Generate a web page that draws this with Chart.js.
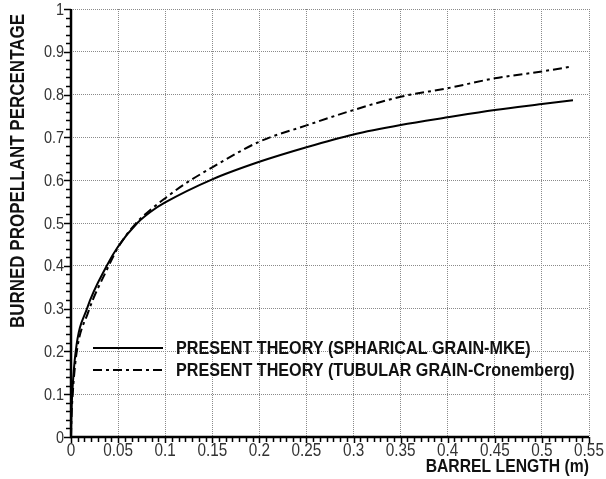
<!DOCTYPE html>
<html>
<head>
<meta charset="utf-8">
<script src="https://cdn.jsdelivr.net/npm/chart.js@4"></script>
<style>
  html, body { margin: 0; padding: 0; background: #fff; }
  #wrap { width: 606px; height: 479px; }
</style>
</head>
<body>
<div id="wrap"><canvas id="burnChart" width="606" height="479"></canvas></div>
<script>
// values
const sphericalX = [0, 0.0004, 0.0013, 0.005, 0.017, 0.038, 0.05, 0.0704, 0.085, 0.1, 0.15, 0.2, 0.25, 0.3, 0.35, 0.4, 0.45, 0.5, 0.533];
const sphericalY = [0, 0.05, 0.1, 0.2, 0.3, 0.4, 0.445, 0.5, 0.527, 0.548, 0.602, 0.643, 0.677, 0.707, 0.729, 0.747, 0.764, 0.778, 0.787];

const tubularX = [0, 0.0005, 0.0015, 0.0055, 0.018, 0.039, 0.05, 0.068, 0.085, 0.1, 0.12, 0.15, 0.2, 0.25, 0.3, 0.35, 0.4, 0.45, 0.5, 0.53];
const tubularY = [0, 0.045, 0.09, 0.19, 0.29, 0.395, 0.443, 0.497, 0.532, 0.558, 0.59, 0.63, 0.69, 0.728, 0.764, 0.795, 0.815, 0.838, 0.854, 0.865];

const seriesLabels = ['PRESENT THEORY (SPHARICAL GRAIN-MKE)', 'PRESENT THEORY (TUBULAR GRAIN-Cronemberg)'];
const xTitle = 'BARREL LENGTH (m)';
const yTitle = 'BURNED PROPELLANT PERCENTAGE';

const FONT = "'Liberation Sans', Arial, sans-serif";
const SQUEEZE = 0.85; // the reference lettering is a bit condensed

const toPoints = (xs, ys) => xs.map((x, i) => ({ x, y: ys[i] }));
const fmt = v => String(+Number(v).toFixed(2));

function squeezedText(ctx, text, x, y, font, align, baseline, color) {
  ctx.save();
  ctx.translate(x, y);
  ctx.scale(SQUEEZE, 1);
  ctx.font = font;
  ctx.textAlign = align;
  ctx.textBaseline = baseline;
  ctx.fillStyle = color;
  ctx.fillText(text, 0, 0);
  ctx.restore();
}

// axes, ticks, tick labels, titles and the legend box
const decorations = {
  id: 'decorations',
  afterDraw(chart) {
    const { ctx, chartArea: a, scales: { x, y } } = chart;
    ctx.save();
    ctx.strokeStyle = '#000';

    // minor + major ticks
    ctx.lineWidth = 1.5;
    for (let i = 0; i <= 50; i++) {
      const py = Math.round(y.getPixelForValue(i * 0.02)) + 0.5;
      const len = i % 5 === 0 ? 7 : 5;
      ctx.beginPath(); ctx.moveTo(a.left - len, py); ctx.lineTo(a.left, py); ctx.stroke();
    }
    for (let i = 0; i <= 77; i++) {
      const px = Math.round(x.getPixelForValue(i * 0.05 / 7)) + 0.5;
      const len = i % 7 === 0 ? 6 : 5;
      ctx.beginPath(); ctx.moveTo(px, a.bottom); ctx.lineTo(px, a.bottom + len); ctx.stroke();
    }

    // axis lines
    ctx.lineWidth = 2.5;
    ctx.beginPath();
    ctx.moveTo(a.left, a.top);
    ctx.lineTo(a.left, a.bottom);
    ctx.lineTo(a.right, a.bottom);
    ctx.stroke();
    ctx.restore();

    // tick labels from the scales' own ticks
    y.ticks.forEach(t => {
      squeezedText(ctx, fmt(t.value), a.left - 7, y.getPixelForValue(t.value) + 1, '17px ' + FONT, 'right', 'middle', '#333');
    });
    x.ticks.forEach(t => {
      squeezedText(ctx, fmt(t.value), x.getPixelForValue(t.value), a.bottom + 5, '18px ' + FONT, 'center', 'top', '#333');
    });

    // axis titles
    squeezedText(ctx, xTitle, 589, 472, 'bold 18.5px ' + FONT, 'right', 'alphabetic', '#111');
    ctx.save();
    ctx.translate(24, 171);
    ctx.rotate(-Math.PI / 2);
    squeezedText(ctx, yTitle, 0, 0, 'bold 20px ' + FONT, 'center', 'alphabetic', '#111');
    ctx.restore();

    // legend
    const rows = [348, 370];
    chart.data.datasets.forEach((ds, i) => {
      ctx.save();
      ctx.strokeStyle = ds.borderColor;
      ctx.lineWidth = ds.borderWidth;
      ctx.setLineDash(ds.borderDash || []);
      ctx.beginPath(); ctx.moveTo(93, rows[i]); ctx.lineTo(163, rows[i]); ctx.stroke();
      ctx.restore();
      squeezedText(ctx, ds.label, 176, rows[i] + 1, 'bold 19px ' + FONT, 'left', 'middle', '#111');
    });
  }
};

new Chart(document.getElementById('burnChart').getContext('2d'), {
  type: 'line',
  data: {
    datasets: [
      { label: seriesLabels[0], data: toPoints(sphericalX, sphericalY), borderColor: '#000', borderWidth: 2,
        pointRadius: 0, cubicInterpolationMode: 'monotone', fill: false },
      { label: seriesLabels[1], data: toPoints(tubularX, tubularY), borderColor: '#000', borderWidth: 2,
        borderDash: [9, 4, 3, 4], pointRadius: 0, cubicInterpolationMode: 'monotone', fill: false }
    ]
  },
  options: {
    responsive: false,
    animation: false,
    layout: { padding: { top: 9, right: 17, left: 0, bottom: 0 } },
    plugins: {
      legend: { display: false },
      tooltip: { enabled: false }
    },
    scales: {
      x: {
        type: 'linear',
        min: 0, max: 0.55,
        afterFit: s => { s.height = 42; },
        grid: { color: '#8a8a8a', lineWidth: 1, drawTicks: false },
        border: { display: false, dash: [1, 1] },
        ticks: { stepSize: 0.05, display: false }
      },
      y: {
        type: 'linear',
        min: 0, max: 1,
        afterFit: s => { s.width = 71; },
        grid: { color: '#8a8a8a', lineWidth: 1, drawTicks: false },
        border: { display: false, dash: [1, 1] },
        ticks: { stepSize: 0.1, display: false }
      }
    }
  },
  plugins: [decorations]
});
</script>
</body>
</html>
